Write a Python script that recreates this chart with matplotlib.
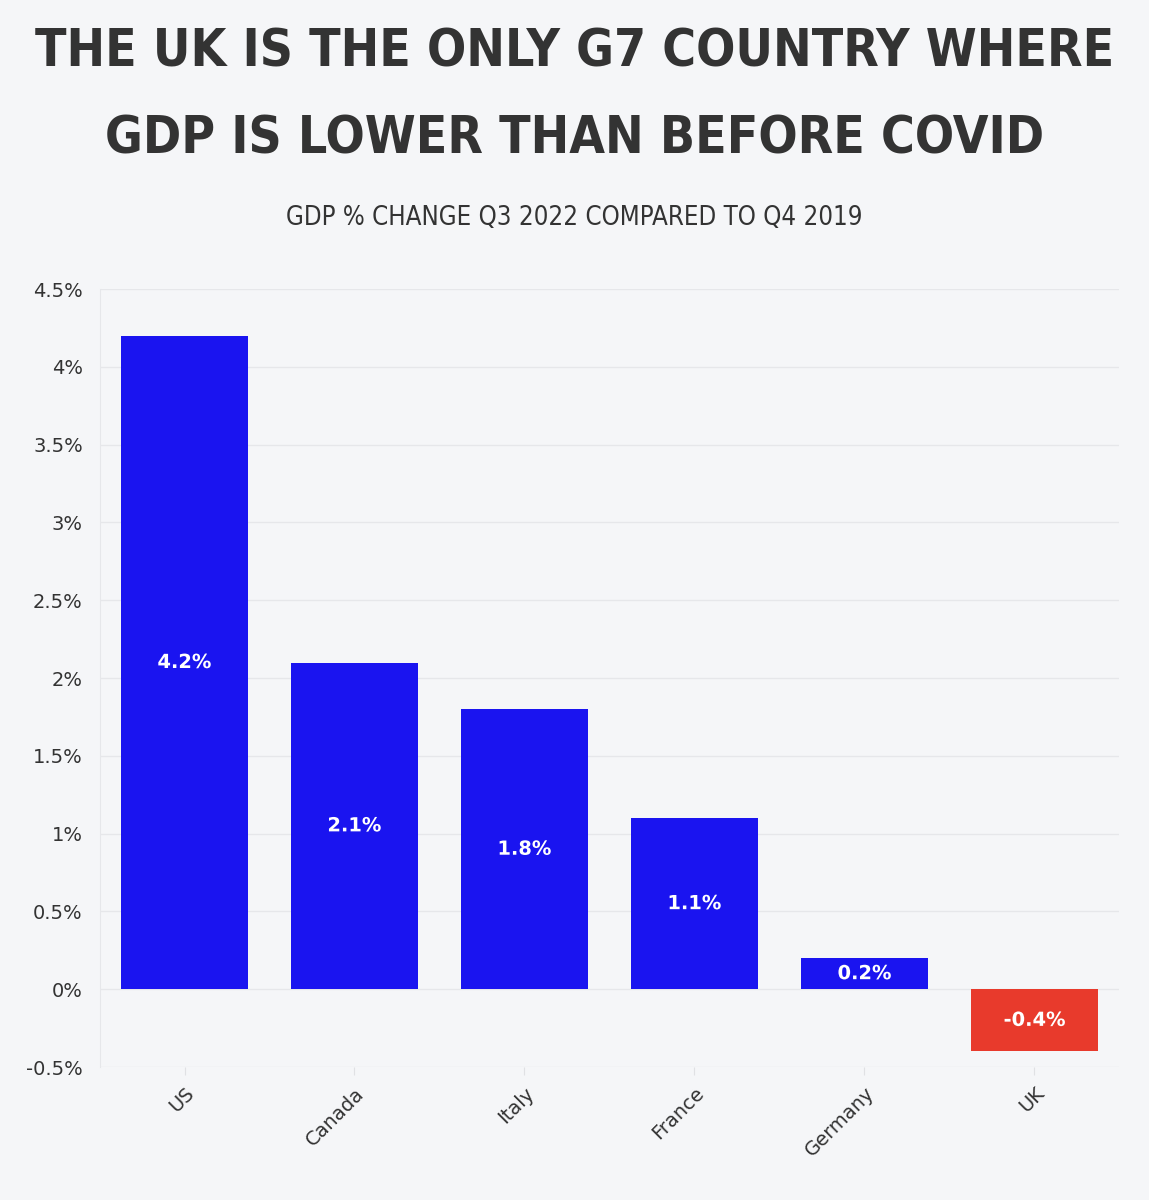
import matplotlib.pyplot as plt
import matplotlib.patheffects as pe
from matplotlib.ticker import FuncFormatter, MultipleLocator

countries = ['US', 'Canada', 'Italy', 'France', 'Germany', 'UK']
gdp_change = [4.2, 2.1, 1.8, 1.1, 0.2, -0.4]

bg = '#f5f6f8'
blue = '#1a14f0'
red = '#e83a2c'
text_col = '#333333'

colors = [red if v < 0 else blue for v in gdp_change]

head = dict(family='DejaVu Sans', fontstretch='condensed', fontsize=37,
            fontweight='bold', color=text_col, ha='center', va='center')

fig = plt.figure(figsize=(11.49, 12), dpi=100, facecolor=bg)
ax = fig.add_axes([0.0866, 0.1108, 0.8877, 0.6483], facecolor=bg)

bars = ax.bar(countries, gdp_change, width=0.75, color=colors, zorder=3)
labels = ax.bar_label(bars, labels=['%.1f%%' % v for v in gdp_change],
                      label_type='center', color='white', fontsize=14,
                      fontweight='bold', zorder=4)
for t, c in zip(labels, colors):
    t.set_path_effects([pe.withStroke(linewidth=3, foreground=c)])

ax.set_xlim(-0.5, len(countries) - 0.5)
ax.set_ylim(-0.5, 4.5)
ax.yaxis.set_major_locator(MultipleLocator(0.5))
ax.yaxis.set_major_formatter(FuncFormatter(lambda v, p: ('%g%%' % round(v, 1))))
ax.grid(axis='y', color='#e6e7ea', linewidth=1, zorder=0)

for s in ['top', 'right', 'bottom']:
    ax.spines[s].set_visible(False)
ax.spines['left'].set_color('#e6e7ea')

ax.tick_params(axis='y', length=0, pad=12, labelsize=14, labelcolor=text_col)
ax.tick_params(axis='x', length=6, color='#e0e1e4', pad=6, labelsize=14,
               labelcolor=text_col)
plt.setp(ax.get_xticklabels(), rotation=45, ha='right', rotation_mode='anchor')

fig.text(0.5, 0.956, 'THE UK IS THE ONLY G7 COUNTRY WHERE', **head)
fig.text(0.5, 0.884, 'GDP IS LOWER THAN BEFORE COVID', **head)
fig.text(0.5, 0.818, 'GDP % CHANGE Q3 2022 COMPARED TO Q4 2019', fontsize=18.5,
         family='DejaVu Sans', fontstretch='condensed', color=text_col,
         ha='center', va='center')

fig.savefig('out.png', dpi=100, facecolor=bg)
